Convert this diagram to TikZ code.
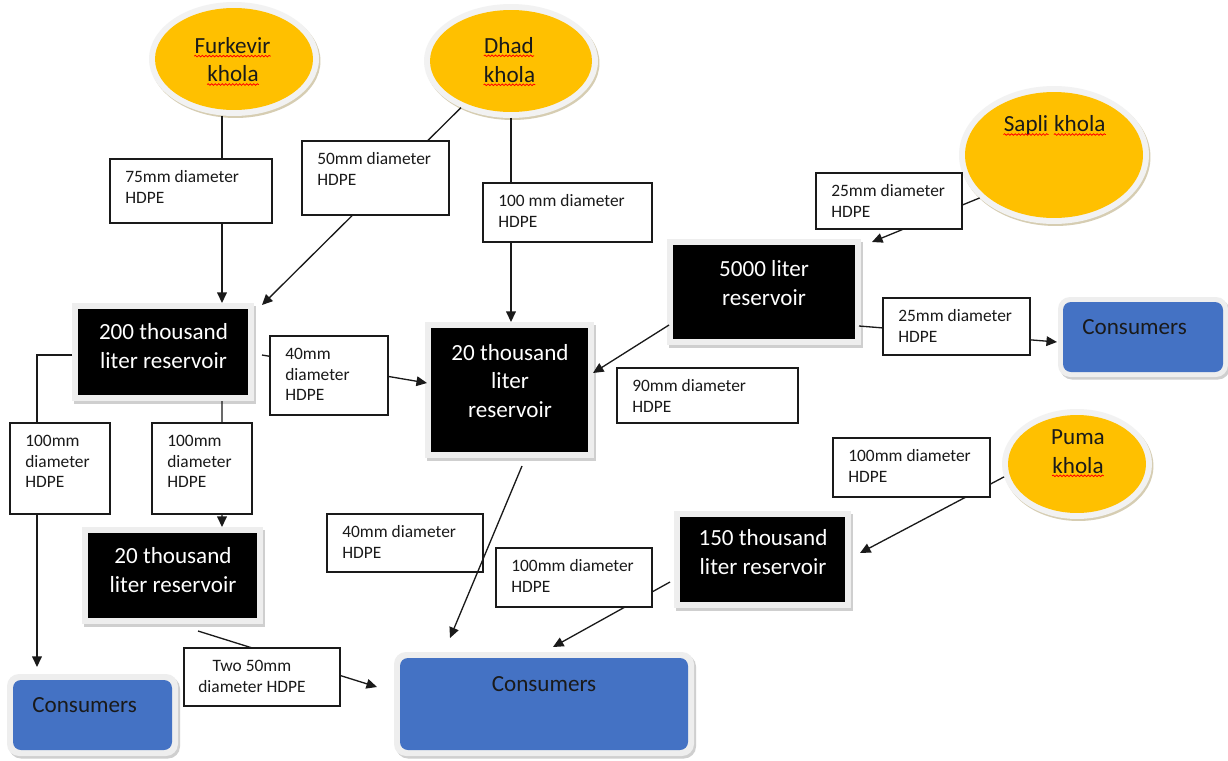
\documentclass[tikz,border=0pt]{standalone}
\usepackage{fontspec}
\setmainfont{Carlito}
\usetikzlibrary{shapes.geometric, fit, calc, arrows.meta, shadows, decorations.pathmorphing}

\definecolor{water}{HTML}{FFC000}
\definecolor{consblue}{HTML}{4472C4}
\definecolor{framegray}{HTML}{EEEEEE}
\definecolor{ringgray}{HTML}{F2F2F2}
\definecolor{shadowgray}{HTML}{CFCFCF}
\definecolor{ellshadow}{HTML}{D6CDB2}
\definecolor{inkgray}{HTML}{1A1A1A}

\newcommand\tagfont{\fontsize{9.9pt}{11.9pt}\selectfont}
\newcommand\bigfont{\fontsize{13.15pt}{16.4pt}\selectfont}

% one white pipe tag: name, corners (x1,y1) (x2,y2), text
\newcommand\pipetag[6]{%
  \node[tagbox, fit={(#2,#3) (#4,#5)}, label={[tagtext]north west:{#6}}] (#1) {};}

\begin{document}
\begin{tikzpicture}[x=0.02cm, y=-0.02cm,
  pipe/.style={line width=0.75pt, draw=inkgray},
  flow/.style={pipe, -{Triangle[length=6pt,width=5.5pt]}},
  tagbox/.style={draw=inkgray, line width=0.75pt, fill=white, inner sep=0pt},
  tagtext/.style={anchor=north west, xshift=0.32cm, yshift=-0.25cm, align=left,
    inner sep=0pt, outer sep=0pt, font=\tagfont, text=inkgray},
  tankframe/.style={fill=framegray, inner sep=0pt, outer sep=0pt,
    drop shadow={shadow xshift=0.04cm, shadow yshift=-0.05cm, fill=shadowgray, opacity=1}},
  tankcore/.style={fill=black, inner sep=0pt, outer sep=0pt},
  tanktext/.style={text=white, font=\bigfont, align=center, inner sep=0pt},
  userframe/.style={fill=framegray, rounded corners=0.24cm, inner sep=0pt, outer sep=0pt,
    drop shadow={shadow xshift=0.04cm, shadow yshift=-0.05cm, fill=shadowgray, opacity=1}},
  usercore/.style={fill=consblue, rounded corners=0.16cm, inner sep=0pt, outer sep=0pt},
  usertext/.style={font=\bigfont, text=inkgray, inner sep=0pt},
  riverring/.style={ellipse, fill=ringgray, inner sep=0pt, outer sep=0pt,
    drop shadow={shadow xshift=0.03cm, shadow yshift=-0.04cm, fill=ellshadow, opacity=1}},
  rivercore/.style={ellipse, fill=water, inner sep=0pt, outer sep=0pt},
  rivertext/.style={font=\bigfont, text=inkgray, inner sep=0pt, anchor=base},
  spell/.style={draw=red, line width=0.45pt, decorate,
    decoration={snake, amplitude=0.45pt, segment length=2pt}}]

\useasboundingbox (0,0) rectangle (1228,761);
\fill[white] (0,0) rectangle (1228,761);

% ---------- sources (streams) ----------
\node[riverring, minimum width=3.40cm, minimum height=2.28cm] (furk) at (234,59) {};
\node[rivercore, minimum width=3.16cm, minimum height=2.04cm] (furkin) at (234,59) {};
\node[rivertext] (furkA) at (232.5,53.3) {Furkevir};
\node[rivertext] (furkB) at (233,81.7) {khola};

\node[riverring, minimum width=3.48cm, minimum height=2.28cm] (dhad) at (511,61) {};
\node[rivercore, minimum width=3.24cm, minimum height=2.04cm] (dhadin) at (511,61) {};
\node[rivertext] (dhadA) at (509,53) {Dhad};
\node[rivertext] (dhadB) at (509.5,82) {khola};

\node[riverring, minimum width=3.80cm, minimum height=2.76cm] (sapli) at (1054,155) {};
\node[rivercore, minimum width=3.56cm, minimum height=2.52cm] (sapliin) at (1054,155) {};
\node[rivertext, anchor=base west] (sapliA) at (1003.5,131.7) {Sapli};
\node[rivertext, anchor=base west] (sapliB) at ($(sapliA.base east)+(2.97pt,0)$) {khola};

\node[riverring, minimum width=3.00cm, minimum height=2.20cm] (puma) at (1077,464) {};
\node[rivercore, minimum width=2.76cm, minimum height=1.96cm] (pumain) at (1077,464) {};
\node[rivertext] (pumaA) at (1078,444) {Puma};
\node[rivertext] (pumaB) at (1078,473) {khola};

\foreach \w in {furkA, furkB, dhadA, dhadB, sapliA, sapliB, pumaB}
  \draw[spell] ([yshift=-1.6pt]\w.base west) -- ([yshift=-1.6pt]\w.base east);

% ---------- reservoirs ----------
\node[tankframe, fit={(72,303) (254,401)}] (r200) {};
\node[tankcore, fit={(78,309) (248,395)}] (r200in) {};
\node[tanktext] (r200t) at (163.5,346.4) {200 thousand\\liter reservoir};

\node[tankframe, fit={(425,322) (594,458)}] (r20c) {};
\node[tankcore, fit={(431,328) (588,452)}] (r20cin) {};
\node[tanktext] (r20ct) at (510,380.9) {20 thousand\\liter\\reservoir};

\node[tankframe, fit={(667,239) (861,345)}] (r5000) {};
\node[tankcore, fit={(673,245) (855,339)}] (r5000in) {};
\node[tanktext] (r5000t) at (764,283.4) {5000 liter\\reservoir};

\node[tankframe, fit={(674,511) (851,608)}] (r150) {};
\node[tankcore, fit={(680,517) (845,602)}] (r150in) {};
\node[tanktext] (r150t) at (763,552.4) {150 thousand\\liter reservoir};

\node[tankframe, fit={(82,527) (263,624)}] (r20L) {};
\node[tankcore, fit={(88,533) (257,618)}] (r20Lin) {};
\node[tanktext] (r20Lt) at (173,570.4) {20 thousand\\liter reservoir};

% ---------- consumers ----------
\node[userframe, fit={(1058,297) (1228,377)}] (consR) {};
\node[usercore, fit={(1063,302) (1223,372)}] (consRin) {};
\node[usertext, anchor=base west] (consRt) at (1082,334) {Consumers};

\node[userframe, fit={(394,652) (694,756)}] (consB) {};
\node[usercore, fit={(400,658) (688,750)}] (consBin) {};
\node[usertext, anchor=base] (consBt) at (544,691) {Consumers};

\node[userframe, fit={(7,674) (178,756)}] (consL) {};
\node[usercore, fit={(13,680) (172,750)}] (consLin) {};
\node[usertext, anchor=base west] (consLt) at (32,712) {Consumers};

% ---------- pipelines ----------
\draw[flow] ($(furk.south)+(-12,0)$) -- ($(r200.north)+(59,0)$);
\draw[flow] (dhad.223) -- ($(r200.north east)+(8,2)$);
\draw[flow] (dhad.south) -- (dhad.south |- r20c.north);
\draw[flow] ($(r200.east)+(8,3)$) -- ($(r20c.west)+(2,-7)$);
\draw[flow] (sapli.210) -- ($(r5000.north east)+(11,3)$);
\draw[flow] ($(r5000.south west)+(2,-20)$) -- ($(r20c.east)+(-1,-17)$);
\draw[flow] ($(r5000.east)+(-2,34)$) -- ($(consR.west)+(-1,5)$);
\draw[flow] (puma.190) -- ($(r150.east)+(9,-6.5)$);
\draw[flow] ($(r150.west)+(-4,22.5)$) -- ($(consB.north)+(9,-5)$);
\draw[flow] ($(r200.west)+(0,3)$) -| ($(consL.north west)+(30,-7)$);
\draw[flow] ($(r200.south)+(59,0)$) -- ($(r20L.north)+(49.5,0)$);
\draw[flow] ($(r20L.south)+(25.5,7)$) -- ($(consB.west)+(-17,-17)$);

% ---------- pipe tags ----------
\pipetag{t75}{110}{159}{272}{223}{75mm diameter\\HDPE}
\pipetag{t50}{302}{141}{449}{215}{50mm diameter\\HDPE}
\pipetag{t100a}{483}{183}{652}{242}{100 mm diameter\\HDPE}
\pipetag{t25a}{816}{173}{962}{229}{25mm diameter\\HDPE}
\pipetag{t40a}{270}{336}{388}{415}{40mm\\diameter\\HDPE}
\pipetag{t25b}{883}{298}{1030}{355}{25mm diameter\\HDPE}
\pipetag{t90}{617}{368}{798}{423}{90mm diameter\\HDPE}
\pipetag{t100b}{10}{423}{110}{514}{100mm\\diameter\\HDPE}
\pipetag{t100c}{152}{423}{252}{514}{100mm\\diameter\\HDPE}
\pipetag{t100d}{833}{438}{990}{497}{100mm diameter\\HDPE}
\pipetag{t40b}{327}{514}{483}{572}{40mm diameter\\HDPE}
\pipetag{t100e}{496}{548}{652}{607}{100mm diameter\\HDPE}
\node[tagbox, fit={(184,648) (340,706)},
  label={[tagtext, align=center, xshift=-0.02cm]north west:{Two 50mm\\diameter HDPE}}] (ttwo) {};

% this pipe crosses the corner of its tag
\draw[flow] ($(r20c.south)+(12.5,8)$) -- ($(consB.north)+(-94,-14)$);

\end{tikzpicture}
\end{document}
